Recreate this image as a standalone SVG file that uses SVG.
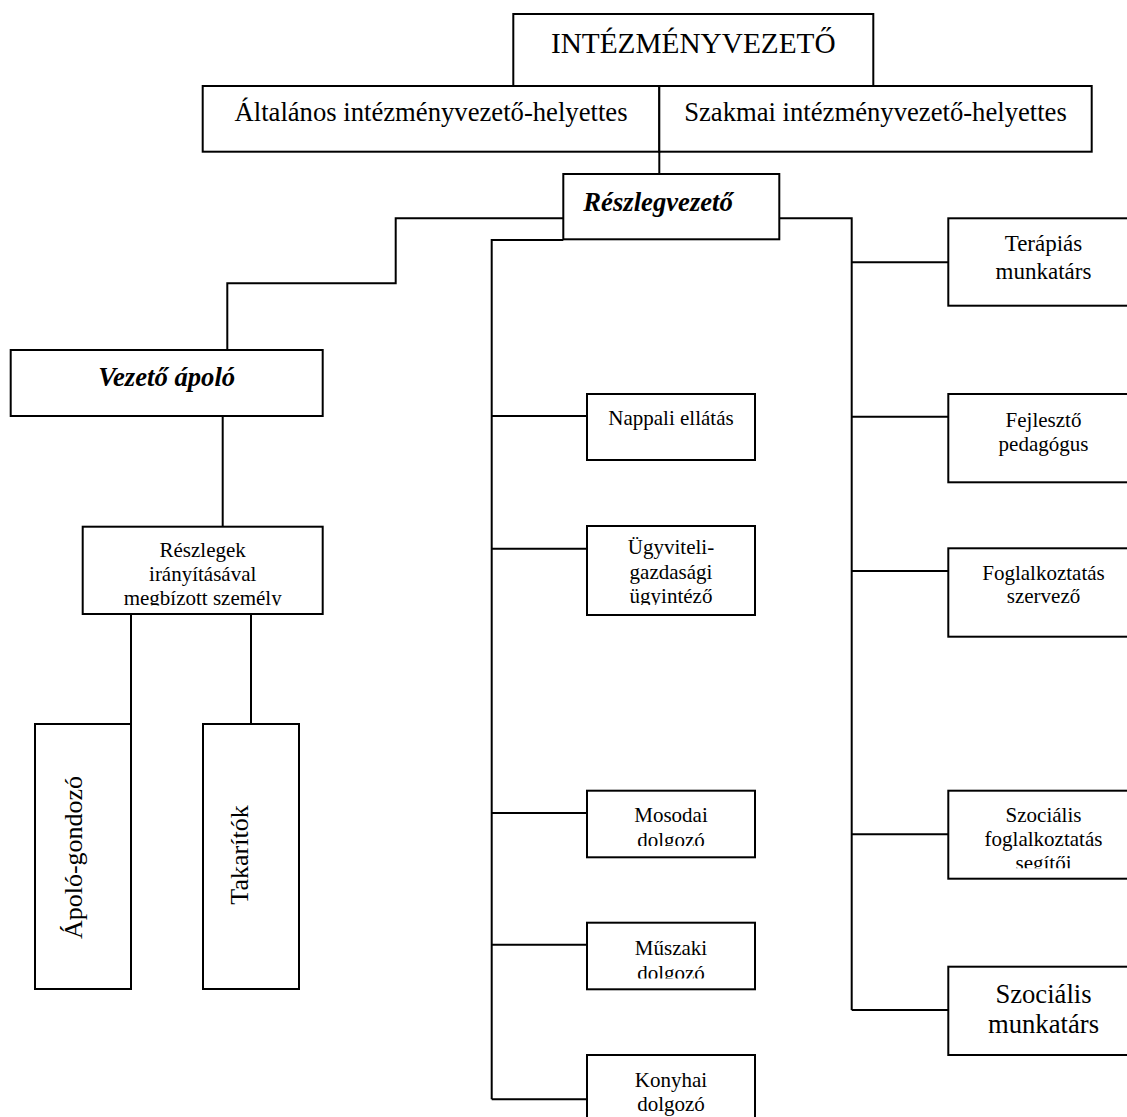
<svg xmlns="http://www.w3.org/2000/svg" width="1127" height="1117" viewBox="0 0 1127 1117">
<style>
.box{fill:#fff;stroke:#000;stroke-width:2}
.ln{fill:none;stroke:#000;stroke-width:2}
text{font-family:"Liberation Serif","Times New Roman",serif;fill:#000}
.t21{font-size:21px;text-anchor:middle}
.t23{font-size:23px;text-anchor:middle}
.t27{font-size:26.67px;text-anchor:middle}
.bi{font-weight:bold;font-style:italic;font-size:26.67px}
</style>
<defs>
<clipPath id="cRes"><rect x="83" y="527" width="240" height="78.5"/></clipPath>
<clipPath id="cUgy"><rect x="587" y="526" width="168" height="79"/></clipPath>
<clipPath id="cMos"><rect x="587" y="791" width="168" height="55"/></clipPath>
<clipPath id="cMus"><rect x="587" y="923" width="168" height="55.5"/></clipPath>
<clipPath id="cSzf"><rect x="948" y="791" width="191" height="77.3"/></clipPath>
</defs>
<g id="connectors">
<path class="ln" d="M659.3,151.7V174"/>
<path class="ln" d="M563.3,218.3H395.7V283.3H227.3V350"/>
<path class="ln" d="M222.7,416V526.7"/>
<path class="ln" d="M131,614V724M251,614V724"/>
<path class="ln" d="M563.3,240H491.7V1099.3"/>
<path class="ln" d="M491.7,416H587M491.7,548.7H587M491.7,813H587M491.7,944.7H587M491.7,1099.3H587"/>
<path class="ln" d="M779.3,218.3H851.7V1010"/>
<path class="ln" d="M851.7,262.3H948.3M851.7,416.7H948.3M851.7,571H948.3M851.7,834.3H948.3M851.7,1010H948.3"/>
</g>
<g id="intezmenyvezeto">
<rect class="box" x="513.3" y="14" width="360" height="72"/>
<text x="693.3" y="52.5" style="font-size:29.3px;text-anchor:middle">INTÉZMÉNYVEZETŐ</text>
</g>
<g id="altalanos">
<rect class="box" x="202.7" y="86" width="456.6" height="65.7"/>
<text class="t27" x="431" y="121">Általános intézményvezető-helyettes</text>
</g>
<g id="szakmai">
<rect class="box" x="659.3" y="86" width="432.4" height="65.7"/>
<text class="t27" x="875.5" y="121">Szakmai intézményvezető-helyettes</text>
</g>
<g id="reszlegvezeto">
<rect class="box" x="563.3" y="174" width="216" height="65.3"/>
<text class="bi" x="583.3" y="210.5">Részlegvezető</text>
</g>
<g id="vezeto-apolo">
<rect class="box" x="10.7" y="350" width="312" height="66"/>
<text class="bi" x="166.7" y="386" text-anchor="middle">Vezető ápoló</text>
</g>
<g id="reszlegek">
<rect class="box" x="82.7" y="526.7" width="240" height="87.3"/>
<g clip-path="url(#cRes)">
<text class="t21" x="202.7" y="556.7">Részlegek</text>
<text class="t21" x="202.7" y="581">irányításával</text>
<text class="t21" x="202.7" y="605.3">megbízott személy</text>
</g>
</g>
<g id="apolo-gondozo">
<rect class="box" x="35" y="724" width="96" height="265"/>
<text transform="translate(82,857.5) rotate(-90)" style="font-size:26px;text-anchor:middle">Ápoló-gondozó</text>
</g>
<g id="takaritok">
<rect class="box" x="203" y="724" width="96" height="265"/>
<text transform="translate(248.3,855) rotate(-90)" style="font-size:26px;text-anchor:middle">Takarítók</text>
</g>
<g id="nappali">
<rect class="box" x="587" y="394" width="168" height="66"/>
<text class="t21" x="671" y="425">Nappali ellátás</text>
</g>
<g id="ugyviteli">
<rect class="box" x="587" y="526" width="168" height="89"/>
<g clip-path="url(#cUgy)">
<text class="t21" x="671" y="554">Ügyviteli-</text>
<text class="t21" x="671" y="578.5">gazdasági</text>
<text class="t21" x="671" y="603">ügyintéző</text>
</g>
</g>
<g id="mosodai">
<rect class="box" x="587" y="790.7" width="168" height="66.6"/>
<g clip-path="url(#cMos)">
<text class="t21" x="671" y="822.3">Mosodai</text>
<text class="t21" x="671" y="846.8">dolgozó</text>
</g>
</g>
<g id="muszaki">
<rect class="box" x="587" y="922.7" width="168" height="66.6"/>
<g clip-path="url(#cMus)">
<text class="t21" x="671" y="955">Műszaki</text>
<text class="t21" x="671" y="979.5">dolgozó</text>
</g>
</g>
<g id="konyhai">
<rect class="box" x="587" y="1055" width="168" height="80"/>
<text class="t21" x="671" y="1086.5">Konyhai</text>
<text class="t21" x="671" y="1111">dolgozó</text>
</g>
<g id="terapias">
<rect class="box" x="948.3" y="218.3" width="191" height="87.4"/>
<text class="t23" x="1043.5" y="251">Terápiás</text>
<text class="t23" x="1043.5" y="279">munkatárs</text>
</g>
<g id="fejleszto">
<rect class="box" x="948.3" y="394" width="191" height="88.3"/>
<text class="t21" x="1043.5" y="426.5">Fejlesztő</text>
<text class="t21" x="1043.5" y="450.5">pedagógus</text>
</g>
<g id="foglalkoztatas">
<rect class="box" x="948.3" y="548.3" width="191" height="88.4"/>
<text class="t21" x="1043.5" y="580">Foglalkoztatás</text>
<text class="t21" x="1043.5" y="603">szervező</text>
</g>
<g id="szocialis-foglalkoztatas">
<rect class="box" x="948.3" y="790.7" width="191" height="88"/>
<g clip-path="url(#cSzf)">
<text class="t21" x="1043.5" y="821.7">Szociális</text>
<text class="t21" x="1043.5" y="845.5">foglalkoztatás</text>
<text class="t21" x="1043.5" y="869.5">segítői</text>
</g>
</g>
<g id="szocialis-munkatars">
<rect class="box" x="948.3" y="966.7" width="191" height="88.3"/>
<text class="t27" x="1043.5" y="1003.3">Szociális</text>
<text class="t27" x="1043.5" y="1033">munkatárs</text>
</g>
</svg>
